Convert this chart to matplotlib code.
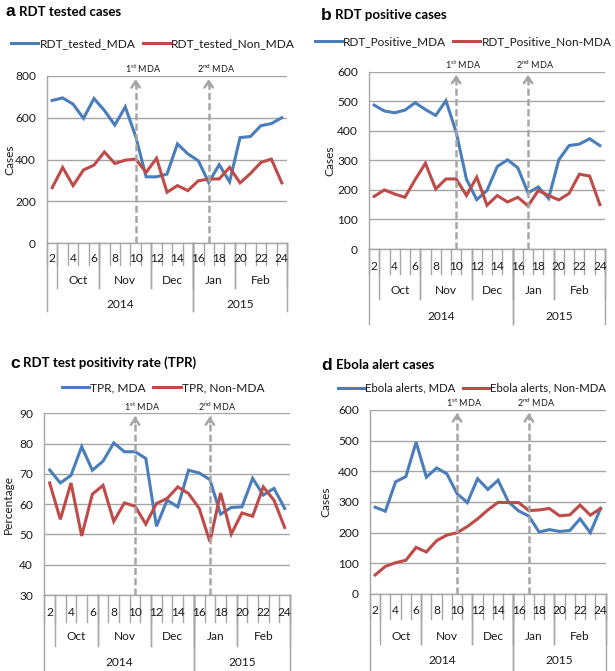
import matplotlib
matplotlib.use("Agg")
import matplotlib.pyplot as plt
from matplotlib.lines import Line2D

# ---------------- data ----------------
weeks = list(range(2, 25))
week_labels = [str(w) if w % 2 == 0 else "" for w in weeks]
months = ["Oct", "Nov", "Dec", "Jan", "Feb"]
month_spans = [(3, 6), (7, 11), (12, 15), (16, 19), (20, 24)]
years = ["2014", "2015"]
year_spans = [(2, 15), (16, 24)]
mda_weeks = [10, 17]
mda_labels = [r"1$^{\mathregular{st}}$ MDA", r"2$^{\mathregular{nd}}$ MDA"]

a_mda = [683, 695, 665, 597, 692, 635, 565, 652, 510, 317, 317, 330, 475, 427, 394, 290, 375, 293, 505, 510, 562, 572, 600]
a_non = [265, 362, 275, 350, 373, 436, 381, 397, 402, 338, 406, 243, 275, 251, 298, 306, 307, 362, 288, 333, 386, 402, 288]
b_mda = [487, 467, 461, 470, 495, 472, 452, 502, 395, 236, 167, 198, 279, 302, 275, 190, 210, 171, 302, 350, 355, 373, 350]
b_non = [178, 200, 186, 175, 235, 290, 203, 237, 237, 181, 243, 148, 181, 159, 175, 146, 198, 181, 166, 188, 253, 247, 150]
c_mda = [71.3, 67, 69.5, 79, 71.2, 74.2, 80.2, 77.3, 77.3, 75.1, 52.7, 61.3, 59.1, 71.2, 70.3, 68.1, 56.7, 58.9, 59.1, 68.5, 63, 65.2, 58.6]
c_non = [67, 55, 67, 49.5, 63.3, 66.2, 54.3, 60.4, 59.3, 53.4, 60.2, 61.9, 65.7, 63.5, 58.6, 47.6, 63.7, 50.1, 57.1, 56, 65.7, 61.3, 52.3]
d_mda = [283, 270, 366, 383, 495, 381, 411, 392, 327, 298, 376, 341, 371, 301, 271, 254, 202, 210, 204, 207, 245, 200, 279]
d_non = [62, 90, 102, 110, 152, 137, 174, 192, 200, 220, 245, 274, 299, 298, 298, 272, 274, 279, 255, 258, 290, 257, 279]

# ---------------- style ----------------
W, H = 615, 671
BLUE = "#4A7EBB"
RED = "#BE4B48"
GRID = "#A6A6A6"
ARROW = "#A6A6A6"
TXT = "#1a1a1a"
FONT = "Lato"
plt.rcParams["font.family"] = [FONT, "DejaVu Sans"]

fig = plt.figure(figsize=(W / 100, H / 100), dpi=100)

panels = [
    dict(letter="a", title="RDT tested cases", mda=a_mda, non=a_non,
         names=("RDT_tested_MDA", "RDT_tested_Non_MDA"),
         box=(47, 287, 76, 243), ylim=(0, 800), step=200, ylabel="Cases",
         title_pos=(5, 12), title_dx=14, legend_pos=(153, 44), legend_fs=8.6, ylab_x=10,
         rows=(16, 38, 61), lines=(22, 45, 68)),
    dict(letter="b", title="RDT positive cases", mda=b_mda, non=b_non,
         names=("RDT_Positive_MDA", "RDT_Positive_Non-MDA"),
         box=(369, 605, 71.7, 249), ylim=(0, 600), step=100, ylabel="Cases",
         title_pos=(321, 15), title_dx=14, legend_pos=(463, 42), legend_fs=8.5, ylab_x=330,
         rows=(17, 42, 67), lines=(25, 50, 75)),
    dict(letter="c", title="RDT test positivity rate (TPR)", mda=c_mda, non=c_non,
         names=("TPR, MDA", "TPR, Non-MDA"),
         box=(44.3, 290, 413.3, 595), ylim=(30, 90), step=10, ylabel="Percentage",
         title_pos=(10, 363), title_dx=13, legend_pos=(163, 388), legend_fs=8.6, ylab_x=8,
         rows=(17, 42, 67), lines=(27, 51, 80)),
    dict(letter="d", title="Ebola alert cases", mda=d_mda, non=d_non,
         names=("Ebola alerts, MDA", "Ebola alerts, Non-MDA"),
         box=(370, 605.7, 410, 594), ylim=(0, 600), step=100, ylabel="Cases",
         title_pos=(321, 365), title_dx=15, legend_pos=(472, 388), legend_fs=8.2, ylab_x=326,
         rows=(17, 42, 67), lines=(25, 50, 80)),
]

n = len(weeks)
xs = list(range(n))

for p in panels:
    l, r, t, b = p["box"]
    ax = fig.add_axes([l / W, 1 - b / H, (r - l) / W, (b - t) / H])
    hpx = b - t
    y0, y1 = p["ylim"]
    ax.set_xlim(-0.5, n - 0.5)
    ax.set_ylim(y0, y1)
    ax.set_yticks(range(y0, y1 + 1, p["step"]))
    ax.yaxis.grid(True, color=GRID, lw=1.0)
    ax.set_axisbelow(True)
    for s in ["top", "right"]:
        ax.spines[s].set_visible(False)
    for s in ["left", "bottom"]:
        ax.spines[s].set_color(GRID)
        ax.spines[s].set_linewidth(1.0)
    ax.tick_params(axis="y", length=0, pad=8, labelsize=8.6, labelcolor=TXT)
    ax.set_xticks([])

    ax.plot(xs, p["mda"], color=BLUE, lw=2.2, solid_joinstyle="miter", label=p["names"][0], zorder=3)
    ax.plot(xs, p["non"], color=RED, lw=2.2, solid_joinstyle="miter", label=p["names"][1], zorder=3)

    # MDA arrows
    tip = y1 - (y1 - y0) * 3.0 / hpx
    for wk, lab in zip(mda_weeks, mda_labels):
        xi = weeks.index(wk)
        ax.plot([xi, xi], [y0, tip], color=ARROW, lw=1.8, ls=(0, (2.8, 1.3)), zorder=4)
        ax.annotate("", xy=(xi, tip), xytext=(xi, tip - (y1 - y0) * 6.0 / hpx),
                    arrowprops=dict(arrowstyle="->,head_length=0.45,head_width=0.3",
                                    color=ARROW, lw=1.8, shrinkA=0, shrinkB=0), zorder=4)
        ax.annotate(lab, xy=(xi, y1), xycoords="data", xytext=(5, 5), textcoords="offset points",
                    ha="center", va="center", fontsize=6.5, color=TXT, annotation_clip=False)

    # multi-level category axis
    tr = ax.get_xaxis_transform()
    wrow, mrow, yrow = [-v / hpx for v in p["rows"]]
    wl, ml, yl = [-v / hpx for v in p["lines"]]
    for k in range(n + 1):
        ax.add_line(Line2D([k - 0.5, k - 0.5], [0, wl], transform=tr, color=GRID, lw=1.0, clip_on=False))
    for xi, lab in zip(xs, week_labels):
        if lab:
            ax.text(xi, wrow, lab, transform=tr, ha="center", va="center", fontsize=8.6, color=TXT)
    for (s, e), lab in zip(month_spans, months):
        i0, i1 = weeks.index(s), weeks.index(e)
        ax.text((i0 + i1) / 2, mrow, lab, transform=tr, ha="center", va="center", fontsize=8.6, color=TXT)
        for xb in (i0 - 0.5, i1 + 0.5):
            ax.add_line(Line2D([xb, xb], [0, ml], transform=tr, color=GRID, lw=1.0, clip_on=False))
    for (s, e), lab in zip(year_spans, years):
        i0, i1 = weeks.index(s), weeks.index(e)
        ax.text((i0 + i1) / 2, yrow, lab, transform=tr, ha="center", va="center", fontsize=8.6, color=TXT)
        for xb in (i0 - 0.5, i1 + 0.5):
            ax.add_line(Line2D([xb, xb], [0, yl], transform=tr, color=GRID, lw=1.0, clip_on=False))

    # y label
    fig.text(p["ylab_x"] / W, 1 - (t + b) / 2 / H, p["ylabel"], rotation=90,
             ha="center", va="center", fontsize=8.6, color=TXT)

    # title
    tx, ty = p["title_pos"]
    fig.text(tx / W, 1 - ty / H, p["letter"], ha="left", va="center", fontsize=12.5,
             fontweight="bold", family=["Liberation Sans", "DejaVu Sans"], color="#000000")
    fig.text((tx + p["title_dx"]) / W, 1 - ty / H, p["title"], ha="left", va="center",
             fontsize=9.5, fontweight="bold", color="#000000")

    # legend
    lx, ly = p["legend_pos"]
    fig.legend(handles=ax.get_lines()[:2], labels=list(p["names"]), loc="center",
               bbox_to_anchor=(lx / W, 1 - ly / H), ncol=2, frameon=False,
               fontsize=p["legend_fs"], handlelength=2.3, handletextpad=0.1, columnspacing=0.6,
               borderpad=0, borderaxespad=0, labelcolor=TXT)

fig.savefig("out.png", dpi=100, facecolor="white")
